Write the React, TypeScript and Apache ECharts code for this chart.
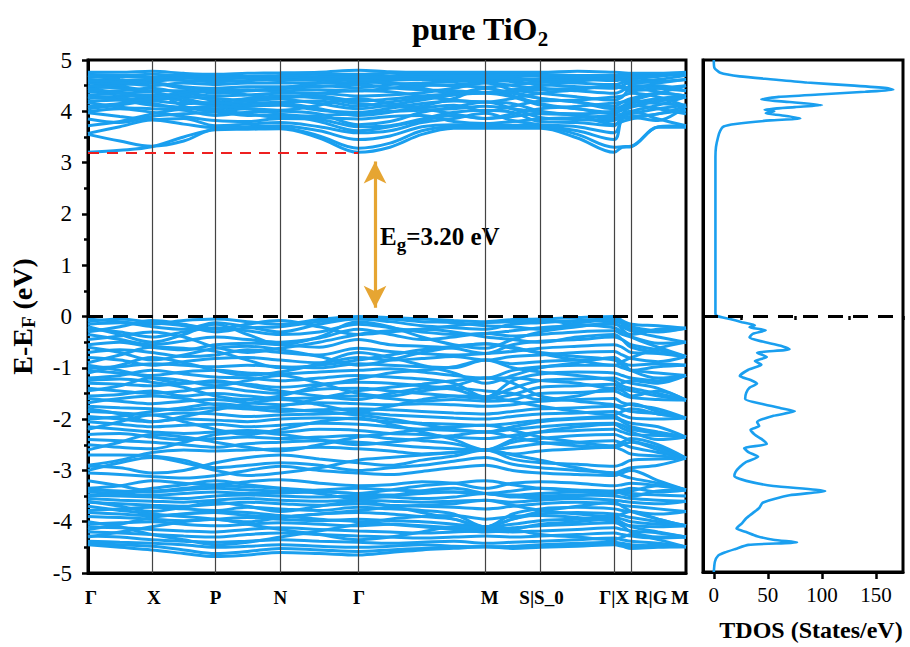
import React, { useEffect, useRef } from 'react';
import * as echarts from 'echarts';

const kPoints = [0, 32, 64, 96, 128, 160, 193, 232, 271, 303, 335, 367, 399, 426, 454, 491, 528, 536, 545, 572, 600];
const symPoints = [64, 128, 193, 271, 399, 454, 528, 545];
const kLabels = ['Γ', 'X', 'P', 'N', 'Γ', 'M', 'S|S_0', 'Γ|X', 'R|G', 'M'];
const kLabelPos = [3, 66, 128, 193, 272, 403, 455, 528, 565, 594];

const conductionBands = [
  [3.20, 3.24, 3.31, 3.50, 3.64, 3.65, 3.66, 3.48, 3.20, 3.30, 3.55, 3.67, 3.67, 3.67, 3.67, 3.48, 3.20, 3.30, 3.31, 3.69, 3.69],
  [3.55, 3.42, 3.32, 3.42, 3.66, 3.68, 3.68, 3.52, 3.28, 3.38, 3.62, 3.70, 3.70, 3.70, 3.70, 3.55, 3.30, 3.31, 3.32, 3.70, 3.72],
  [3.57, 3.70, 3.83, 3.75, 3.68, 3.70, 3.72, 3.62, 3.45, 3.52, 3.70, 3.74, 3.74, 3.73, 3.72, 3.62, 3.45, 3.85, 3.88, 3.82, 4.10],
  [3.97, 3.90, 3.84, 3.86, 3.72, 3.75, 3.78, 3.70, 3.58, 3.62, 3.78, 3.86, 3.96, 3.82, 3.74, 3.70, 3.58, 3.86, 3.90, 3.95, 4.10],
  [3.99, 4.05, 3.98, 3.90, 3.82, 3.80, 3.86, 3.84, 3.70, 3.72, 3.85, 3.98, 4.02, 3.98, 3.80, 3.78, 3.72, 3.90, 3.95, 4.05, 4.12],
  [4.17, 4.08, 4.05, 4.02, 3.92, 3.98, 4.00, 3.95, 3.74, 3.80, 3.98, 4.08, 4.18, 4.05, 3.88, 3.84, 3.82, 3.92, 4.00, 4.12, 4.28],
  [4.19, 4.22, 4.15, 4.06, 4.05, 4.10, 4.12, 4.02, 3.98, 4.06, 4.15, 4.20, 4.18, 4.15, 4.00, 3.92, 3.86, 3.95, 4.10, 4.20, 4.28],
  [4.25, 4.30, 4.32, 4.20, 4.12, 4.15, 4.18, 4.20, 4.10, 4.18, 4.26, 4.32, 4.35, 4.28, 4.12, 4.05, 3.95, 4.05, 4.15, 4.25, 4.30],
  [4.30, 4.26, 4.22, 4.28, 4.25, 4.22, 4.26, 4.30, 4.20, 4.24, 4.30, 4.34, 4.37, 4.36, 4.25, 4.18, 4.10, 4.18, 4.25, 4.35, 4.30],
  [4.38, 4.40, 4.45, 4.35, 4.30, 4.32, 4.35, 4.35, 4.30, 4.32, 4.36, 4.45, 4.55, 4.42, 4.35, 4.28, 4.22, 4.28, 4.45, 4.38, 4.30],
  [4.45, 4.48, 4.40, 4.40, 4.38, 4.42, 4.40, 4.42, 4.40, 4.45, 4.50, 4.52, 4.56, 4.50, 4.45, 4.40, 4.35, 4.40, 4.50, 4.50, 4.40],
  [4.50, 4.52, 4.55, 4.48, 4.45, 4.48, 4.48, 4.50, 4.46, 4.52, 4.55, 4.58, 4.60, 4.58, 4.52, 4.48, 4.45, 4.50, 4.58, 4.62, 4.70],
  [4.56, 4.55, 4.50, 4.55, 4.52, 4.55, 4.55, 4.56, 4.55, 4.60, 4.62, 4.62, 4.62, 4.62, 4.58, 4.55, 4.52, 4.56, 4.62, 4.68, 4.72],
  [4.62, 4.60, 4.62, 4.60, 4.58, 4.60, 4.62, 4.62, 4.62, 4.64, 4.64, 4.66, 4.66, 4.65, 4.62, 4.62, 4.60, 4.62, 4.66, 4.70, 4.74],
  [4.66, 4.68, 4.66, 4.66, 4.64, 4.65, 4.66, 4.68, 4.68, 4.68, 4.70, 4.70, 4.70, 4.70, 4.68, 4.66, 4.65, 4.66, 4.70, 4.72, 4.74],
  [4.72, 4.70, 4.72, 4.70, 4.70, 4.68, 4.70, 4.72, 4.72, 4.74, 4.72, 4.74, 4.74, 4.73, 4.72, 4.70, 4.70, 4.70, 4.72, 4.73, 4.75],
  [4.76, 4.76, 4.78, 4.74, 4.72, 4.74, 4.75, 4.76, 4.80, 4.77, 4.76, 4.76, 4.76, 4.76, 4.76, 4.78, 4.76, 4.75, 4.74, 4.74, 4.76],
  [4.32, 4.35, 4.38, 4.10, 4.00, 4.05, 4.02, 4.12, 4.25, 4.15, 4.08, 4.12, 4.00, 4.10, 4.20, 4.22, 4.28, 4.30, 4.35, 4.28, 4.10],
  [4.05, 4.12, 4.20, 4.15, 4.18, 4.25, 4.30, 4.26, 4.15, 4.10, 4.05, 3.95, 3.86, 3.95, 4.05, 4.10, 4.16, 4.18, 4.20, 4.15, 4.12],
  [4.40, 4.36, 4.30, 4.36, 4.45, 4.40, 4.44, 4.48, 4.52, 4.46, 4.42, 4.40, 4.36, 4.40, 4.42, 4.45, 4.48, 4.45, 4.40, 4.45, 4.50],
  [4.60, 4.58, 4.58, 4.65, 4.62, 4.66, 4.60, 4.64, 4.58, 4.55, 4.52, 4.50, 4.47, 4.52, 4.56, 4.60, 4.64, 4.62, 4.56, 4.58, 4.62],
  [3.85, 3.78, 3.90, 3.95, 3.98, 3.92, 3.94, 3.88, 3.85, 3.90, 3.92, 3.80, 3.76, 3.80, 3.85, 3.88, 3.92, 3.95, 4.00, 3.85, 3.72],
  [4.45, 4.35, 4.25, 4.30, 4.20, 4.10, 4.15, 4.05, 3.92, 3.98, 4.10, 4.25, 4.45, 4.30, 4.15, 4.05, 3.98, 4.02, 4.08, 4.20, 4.28],
  [4.70, 4.62, 4.55, 4.45, 4.35, 4.40, 4.45, 4.55, 4.62, 4.55, 4.45, 4.35, 4.36, 4.42, 4.50, 4.58, 4.66, 4.60, 4.52, 4.45, 4.40],
  [4.10, 4.15, 4.25, 4.32, 4.40, 4.32, 4.25, 4.15, 4.05, 4.12, 4.22, 4.32, 4.45, 4.35, 4.25, 4.18, 4.05, 4.10, 4.20, 4.35, 4.50],
  [4.50, 4.45, 4.38, 4.25, 4.15, 4.20, 4.25, 4.35, 4.40, 4.38, 4.30, 4.22, 4.18, 4.25, 4.35, 4.42, 4.50, 4.48, 4.45, 4.55, 4.62],
  [3.72, 3.80, 3.95, 4.05, 4.10, 4.05, 3.95, 3.80, 3.62, 3.70, 3.82, 3.92, 3.86, 3.90, 3.95, 3.92, 3.75, 3.80, 3.85, 3.95, 4.02],
  [4.28, 4.22, 4.12, 4.08, 4.02, 3.95, 3.88, 3.92, 3.95, 4.00, 4.02, 4.05, 4.10, 4.05, 3.98, 3.95, 4.00, 4.05, 4.12, 4.05, 3.95],
];

const valenceBands = [
  [-0.05, -0.10, -0.15, -0.08, -0.05, -0.10, -0.15, -0.06, 0.00, -0.02, -0.05, -0.08, -0.10, -0.06, -0.05, -0.02, 0.00, -0.08, -0.15, -0.18, -0.23],
  [-0.15, -0.12, -0.20, -0.25, -0.12, -0.20, -0.30, -0.15, -0.05, -0.10, -0.18, -0.22, -0.25, -0.15, -0.12, -0.08, -0.05, -0.12, -0.20, -0.28, -0.23],
  [-0.25, -0.30, -0.40, -0.30, -0.22, -0.28, -0.35, -0.30, -0.15, -0.22, -0.30, -0.35, -0.33, -0.28, -0.22, -0.18, -0.15, -0.20, -0.28, -0.40, -0.50],
  [-0.35, -0.45, -0.55, -0.48, -0.40, -0.45, -0.50, -0.42, -0.25, -0.35, -0.45, -0.40, -0.33, -0.38, -0.35, -0.30, -0.28, -0.35, -0.40, -0.52, -0.50],
  [-0.55, -0.50, -0.60, -0.65, -0.55, -0.52, -0.55, -0.60, -0.45, -0.55, -0.58, -0.62, -0.72, -0.55, -0.48, -0.45, -0.40, -0.45, -0.55, -0.65, -0.78],
  [-0.70, -0.65, -0.70, -0.78, -0.75, -0.65, -0.70, -0.75, -0.62, -0.68, -0.72, -0.75, -0.72, -0.68, -0.62, -0.58, -0.55, -0.60, -0.70, -0.72, -0.78],
  [-0.80, -0.85, -0.95, -0.88, -0.82, -0.80, -0.85, -0.90, -0.80, -0.85, -0.82, -0.78, -0.85, -0.78, -0.75, -0.70, -0.68, -0.75, -0.82, -0.88, -0.78],
  [-1.00, -0.98, -0.92, -0.95, -0.98, -0.95, -0.98, -1.00, -0.92, -0.95, -0.98, -1.00, -0.85, -0.92, -0.88, -0.85, -0.82, -0.90, -0.95, -0.92, -0.95],
  [-1.05, -1.10, -1.15, -1.08, -1.05, -1.10, -1.12, -1.08, -1.05, -1.02, -1.08, -1.15, -1.20, -1.05, -0.98, -0.95, -0.95, -1.00, -1.05, -1.10, -1.15],
  [-1.20, -1.15, -1.05, -1.12, -1.18, -1.20, -1.25, -1.20, -1.15, -1.18, -1.22, -1.30, -1.57, -1.25, -1.12, -1.08, -1.10, -1.15, -1.20, -1.25, -1.15],
  [-1.30, -1.32, -1.35, -1.30, -1.28, -1.32, -1.38, -1.32, -1.28, -1.30, -1.35, -1.42, -1.57, -1.40, -1.25, -1.22, -1.20, -1.25, -1.30, -1.40, -1.63],
  [-1.40, -1.45, -1.50, -1.45, -1.38, -1.45, -1.50, -1.42, -1.40, -1.45, -1.50, -1.55, -1.60, -1.52, -1.38, -1.35, -1.32, -1.40, -1.45, -1.55, -1.63],
  [-1.55, -1.52, -1.45, -1.55, -1.50, -1.55, -1.60, -1.58, -1.55, -1.60, -1.65, -1.62, -1.65, -1.62, -1.50, -1.48, -1.45, -1.52, -1.58, -1.62, -1.63],
  [-1.60, -1.65, -1.70, -1.65, -1.62, -1.68, -1.72, -1.68, -1.70, -1.72, -1.70, -1.72, -1.75, -1.72, -1.65, -1.62, -1.60, -1.68, -1.72, -1.80, -1.98],
  [-1.75, -1.78, -1.80, -1.82, -1.78, -1.80, -1.85, -1.82, -1.80, -1.82, -1.85, -1.88, -1.90, -1.85, -1.80, -1.78, -1.75, -1.80, -1.85, -1.90, -1.98],
  [-1.85, -1.88, -1.92, -1.88, -1.90, -1.95, -1.92, -1.90, -1.88, -1.92, -1.95, -1.98, -2.00, -1.95, -1.90, -1.88, -1.85, -1.92, -1.98, -2.00, -1.98],
  [-1.95, -2.00, -2.05, -2.00, -2.02, -2.05, -2.00, -1.98, -2.00, -2.05, -2.08, -2.10, -2.12, -2.08, -2.02, -1.98, -1.95, -2.02, -2.08, -2.15, -2.35],
  [-2.05, -2.10, -2.15, -2.12, -2.10, -2.15, -2.12, -2.08, -2.10, -2.15, -2.20, -2.22, -2.25, -2.20, -2.15, -2.10, -2.08, -2.12, -2.20, -2.28, -2.35],
  [-2.15, -2.20, -2.25, -2.28, -2.25, -2.22, -2.25, -2.20, -2.22, -2.28, -2.30, -2.35, -2.38, -2.32, -2.25, -2.22, -2.20, -2.25, -2.30, -2.32, -2.35],
  [-2.30, -2.28, -2.35, -2.40, -2.38, -2.35, -2.38, -2.35, -2.32, -2.38, -2.42, -2.48, -2.60, -2.45, -2.38, -2.32, -2.30, -2.35, -2.42, -2.55, -2.76],
  [-2.40, -2.42, -2.45, -2.50, -2.55, -2.48, -2.45, -2.42, -2.45, -2.50, -2.55, -2.58, -2.60, -2.55, -2.48, -2.45, -2.42, -2.48, -2.55, -2.65, -2.76],
  [-2.90, -2.80, -2.65, -2.60, -2.62, -2.60, -2.58, -2.55, -2.58, -2.62, -2.68, -2.65, -2.60, -2.68, -2.62, -2.58, -2.55, -2.60, -2.68, -2.72, -2.76],
  [-2.92, -2.95, -3.05, -3.00, -2.85, -2.75, -2.70, -2.78, -2.85, -2.90, -2.80, -2.72, -2.60, -2.78, -2.85, -2.88, -2.92, -2.88, -2.80, -2.78, -2.76],
  [-3.05, -3.08, -3.12, -3.15, -3.10, -3.00, -2.92, -3.00, -3.05, -3.08, -3.02, -2.95, -2.90, -3.00, -3.05, -3.08, -3.10, -3.05, -3.00, -3.20, -3.38],
  [-3.35, -3.30, -3.20, -3.25, -3.28, -3.22, -3.18, -3.25, -3.30, -3.28, -3.22, -3.25, -3.35, -3.25, -3.22, -3.25, -3.30, -3.28, -3.25, -3.30, -3.38],
  [-3.38, -3.40, -3.42, -3.38, -3.35, -3.38, -3.40, -3.38, -3.35, -3.38, -3.40, -3.42, -3.45, -3.40, -3.35, -3.38, -3.40, -3.38, -3.35, -3.42, -3.38],
  [-3.42, -3.45, -3.48, -3.45, -3.42, -3.45, -3.44, -3.42, -3.45, -3.48, -3.45, -3.42, -3.45, -3.48, -3.45, -3.42, -3.44, -3.42, -3.45, -3.48, -3.50],
  [-3.48, -3.50, -3.52, -3.55, -3.50, -3.48, -3.50, -3.52, -3.50, -3.52, -3.55, -3.52, -3.45, -3.52, -3.50, -3.48, -3.50, -3.52, -3.55, -3.58, -3.60],
  [-3.55, -3.58, -3.60, -3.62, -3.58, -3.55, -3.58, -3.60, -3.58, -3.60, -3.62, -3.60, -3.58, -3.62, -3.58, -3.55, -3.58, -3.60, -3.62, -3.65, -3.60],
  [-3.62, -3.65, -3.68, -3.70, -3.66, -3.62, -3.65, -3.68, -3.65, -3.68, -3.70, -3.72, -3.75, -3.70, -3.65, -3.62, -3.65, -3.68, -3.70, -3.75, -3.80],
  [-3.78, -3.75, -3.72, -3.75, -3.78, -3.72, -3.75, -3.78, -3.72, -3.75, -3.78, -3.85, -4.10, -3.85, -3.75, -3.72, -3.75, -3.78, -3.80, -3.85, -3.80],
  [-3.82, -3.85, -3.88, -3.85, -3.82, -3.88, -3.90, -3.85, -3.82, -3.85, -3.90, -3.95, -4.10, -3.95, -3.85, -3.82, -3.85, -3.88, -3.92, -4.00, -4.08],
  [-3.90, -3.92, -3.95, -3.98, -3.95, -3.92, -3.95, -3.98, -3.95, -3.98, -4.00, -4.05, -4.10, -4.05, -3.98, -3.95, -3.92, -3.95, -4.00, -4.05, -4.08],
  [-4.05, -4.02, -4.00, -4.05, -4.08, -4.05, -4.02, -4.05, -4.08, -4.05, -4.08, -4.12, -4.15, -4.12, -4.08, -4.05, -4.02, -4.05, -4.08, -4.10, -4.08],
  [-4.10, -4.12, -4.15, -4.18, -4.20, -4.15, -4.12, -4.15, -4.18, -4.20, -4.22, -4.20, -4.18, -4.20, -4.18, -4.15, -4.12, -4.15, -4.18, -4.22, -4.30],
  [-4.20, -4.22, -4.25, -4.28, -4.30, -4.25, -4.22, -4.25, -4.28, -4.30, -4.32, -4.30, -4.28, -4.30, -4.28, -4.25, -4.22, -4.25, -4.28, -4.32, -4.30],
  [-4.28, -4.30, -4.35, -4.38, -4.40, -4.38, -4.35, -4.38, -4.40, -4.42, -4.40, -4.38, -4.42, -4.40, -4.38, -4.35, -4.32, -4.35, -4.38, -4.42, -4.49],
  [-4.38, -4.40, -4.42, -4.45, -4.50, -4.48, -4.45, -4.48, -4.50, -4.48, -4.45, -4.48, -4.49, -4.48, -4.45, -4.42, -4.40, -4.42, -4.45, -4.48, -4.49],
  [-4.42, -4.45, -4.48, -4.55, -4.62, -4.58, -4.52, -4.55, -4.58, -4.55, -4.52, -4.50, -4.49, -4.50, -4.48, -4.45, -4.42, -4.45, -4.50, -4.45, -4.49],
  [-4.45, -4.50, -4.55, -4.62, -4.68, -4.65, -4.60, -4.62, -4.65, -4.60, -4.55, -4.52, -4.49, -4.52, -4.50, -4.48, -4.45, -4.48, -4.52, -4.50, -4.49],
  [-0.10, -0.05, -0.12, -0.18, -0.30, -0.22, -0.20, -0.10, -0.02, -0.05, -0.10, -0.12, -0.18, -0.20, -0.25, -0.12, -0.08, -0.15, -0.25, -0.30, -0.23],
  [-0.45, -0.38, -0.30, -0.40, -0.60, -0.70, -0.62, -0.50, -0.35, -0.28, -0.25, -0.30, -0.40, -0.45, -0.50, -0.40, -0.35, -0.45, -0.60, -0.70, -0.78],
  [-0.90, -0.75, -0.60, -0.62, -0.68, -0.85, -1.00, -0.95, -0.85, -0.75, -0.65, -0.58, -0.53, -0.62, -0.70, -0.78, -0.85, -0.95, -1.05, -0.98, -0.95],
  [-1.25, -1.22, -1.28, -1.38, -1.55, -1.62, -1.55, -1.35, -1.22, -1.10, -1.05, -0.98, -0.85, -1.00, -1.08, -1.15, -1.25, -1.35, -1.40, -1.50, -1.63],
  [-1.68, -1.60, -1.55, -1.60, -1.72, -1.80, -1.75, -1.60, -1.45, -1.38, -1.32, -1.25, -1.20, -1.30, -1.55, -1.65, -1.72, -1.75, -1.70, -1.85, -1.98],
  [-2.00, -1.95, -1.85, -1.78, -1.70, -1.75, -1.80, -1.85, -1.92, -2.00, -2.10, -2.20, -2.25, -2.15, -2.05, -2.00, -1.98, -2.05, -2.15, -2.25, -2.35],
  [-2.50, -2.55, -2.58, -2.45, -2.30, -2.25, -2.30, -2.40, -2.50, -2.45, -2.38, -2.32, -2.25, -2.35, -2.45, -2.52, -2.55, -2.50, -2.45, -2.60, -2.76],
  [-3.20, -3.30, -3.40, -3.35, -3.30, -3.32, -3.35, -3.40, -3.45, -3.38, -3.30, -3.25, -3.20, -3.28, -3.35, -3.40, -3.45, -3.42, -3.40, -3.30, -3.38],
  [-3.70, -3.78, -3.85, -3.90, -3.95, -4.00, -3.92, -3.85, -3.78, -3.72, -3.68, -3.65, -3.58, -3.68, -3.78, -3.85, -3.90, -3.85, -3.80, -3.95, -4.08],
  [-4.15, -4.05, -3.92, -3.85, -3.80, -3.82, -3.88, -3.95, -4.00, -4.05, -4.10, -4.15, -4.20, -4.15, -4.05, -4.00, -3.95, -4.02, -4.10, -4.20, -4.30],
  [-0.20, -0.35, -0.50, -0.35, -0.15, -0.35, -0.55, -0.40, -0.10, -0.20, -0.40, -0.55, -0.62, -0.45, -0.30, -0.20, -0.12, -0.25, -0.40, -0.60, -0.78],
  [-0.60, -0.70, -0.85, -0.75, -0.62, -0.58, -0.65, -0.78, -0.95, -0.85, -0.70, -0.60, -0.53, -0.60, -0.72, -0.85, -0.95, -0.88, -0.80, -0.62, -0.50],
  [-1.10, -0.95, -0.80, -0.90, -1.05, -1.15, -1.08, -0.92, -0.70, -0.80, -0.95, -1.10, -1.30, -1.15, -1.00, -0.90, -0.80, -0.90, -1.05, -1.20, -1.15],
  [-1.45, -1.35, -1.20, -1.25, -1.35, -1.25, -1.15, -1.30, -1.50, -1.55, -1.45, -1.40, -1.45, -1.50, -1.62, -1.55, -1.40, -1.45, -1.55, -1.45, -1.63],
  [-1.80, -1.90, -2.05, -1.95, -1.82, -1.70, -1.62, -1.72, -1.85, -1.75, -1.62, -1.55, -1.57, -1.65, -1.75, -1.85, -1.92, -1.85, -1.80, -1.90, -1.98],
  [-2.20, -2.05, -1.92, -2.05, -2.20, -2.30, -2.20, -2.05, -1.98, -2.10, -2.25, -2.40, -2.60, -2.40, -2.25, -2.15, -2.10, -2.18, -2.25, -2.40, -2.35],
  [-2.60, -2.45, -2.30, -2.35, -2.45, -2.55, -2.62, -2.50, -2.35, -2.28, -2.20, -2.15, -2.12, -2.22, -2.35, -2.45, -2.52, -2.45, -2.38, -2.50, -2.76],
  [-3.00, -2.85, -2.75, -2.85, -3.00, -3.10, -3.05, -2.95, -2.80, -2.75, -2.70, -2.65, -2.60, -2.70, -2.80, -2.95, -3.05, -3.00, -2.95, -2.90, -2.76],
  [-3.50, -3.45, -3.35, -3.28, -3.20, -3.28, -3.35, -3.45, -3.55, -3.50, -3.40, -3.35, -3.45, -3.50, -3.55, -3.50, -3.42, -3.45, -3.50, -3.40, -3.38],
  [-3.60, -3.70, -3.80, -3.72, -3.62, -3.70, -3.80, -3.70, -3.60, -3.70, -3.82, -3.95, -4.10, -3.95, -3.80, -3.70, -3.62, -3.70, -3.80, -3.95, -4.08],
  [-4.30, -4.20, -4.10, -4.00, -3.95, -4.05, -4.15, -4.25, -4.35, -4.30, -4.20, -4.10, -4.10, -4.15, -4.25, -4.30, -4.35, -4.30, -4.25, -4.35, -4.49],
  [-4.00, -4.10, -4.25, -4.35, -4.45, -4.40, -4.30, -4.18, -4.05, -3.95, -3.90, -3.88, -3.95, -3.90, -3.88, -3.92, -4.00, -4.08, -4.20, -4.30, -4.30],
  [-0.30, -0.20, -0.08, -0.15, -0.25, -0.15, -0.08, -0.20, -0.35, -0.30, -0.25, -0.18, -0.12, -0.10, -0.08, -0.15, -0.22, -0.30, -0.35, -0.25, -0.23],
  [-0.95, -1.05, -1.20, -1.30, -1.25, -1.35, -1.45, -1.55, -1.62, -1.50, -1.40, -1.35, -1.20, -1.20, -1.25, -1.30, -1.40, -1.30, -1.25, -1.30, -1.15],
  [-2.70, -2.70, -2.72, -2.80, -2.95, -2.90, -2.85, -2.90, -3.00, -2.95, -2.90, -2.82, -2.75, -2.88, -2.95, -3.00, -3.05, -3.10, -3.15, -3.25, -3.38],
];

const dosEnergy = [
  5.0, 4.85, 4.75, 4.68, 4.62, 4.56, 4.5, 4.45, 4.42, 4.38, 4.33, 4.28, 4.23, 4.18, 4.12, 4.08, 4.03, 4.0, 3.96, 3.92,
  3.86, 3.82, 3.75, 3.7, 3.62, 3.5, 3.3, 3.1, 2.5, 1.5, 0.5, 0.05, 0.0, -0.06, -0.12, -0.18, -0.22, -0.28, -0.35, -0.42,
  -0.5, -0.58, -0.65, -0.72, -0.8, -0.88, -0.95, -1.05, -1.17, -1.25, -1.32, -1.4, -1.5, -1.62, -1.72, -1.8, -1.86, -1.95, -2.07, -2.15,
  -2.22, -2.32, -2.4, -2.5, -2.58, -2.66, -2.75, -2.85, -2.95, -3.05, -3.13, -3.22, -3.32, -3.42, -3.5, -3.58, -3.65, -3.75, -3.85, -3.95,
  -4.05, -4.15, -4.22, -4.3, -4.37, -4.42, -4.47, -4.55, -4.62, -4.68, -4.8, -5.0,
];
const dosValue = [
  0, 0.5, 6, 24, 55, 86, 130, 160, 166, 140, 101, 60, 44, 70, 100, 75, 47, 56, 48, 62,
  80, 52, 20, 9, 6, 4, 2, 1.5, 1.5, 1.5, 1.5, 1.5, 3, 15, 26, 38, 33, 48, 36, 33,
  45, 62, 70, 40, 49, 38, 44, 32, 24, 34, 40, 33, 30, 29, 45, 62, 75, 55, 40, 42,
  34, 38, 44, 49, 28, 32, 41, 30, 24, 20, 19, 30, 55, 103, 70, 55, 45, 42, 36, 30,
  26, 21, 30, 40, 55, 77, 32, 20, 10, 4, 1, 0,
];
const dosTicks = [0, 50, 100, 150];
const dosMinorTicks = [25, 75, 125, 175];
const gapEnergy = 3.2;
const gapArrowK = 288;
const gapArrowEnds = [0.17, 3.02];

const BLUE = '#1A9FEF';
const FONT = '"Liberation Serif", "Times New Roman", serif';

export default function App() {
  const ref = useRef<HTMLDivElement>(null);

  useEffect(() => {
    if (!ref.current) return;
    const chart = echarts.init(ref.current, null, { renderer: 'svg' });

    const bandSeries = conductionBands.concat(valenceBands).map((band) => ({
      type: 'line',
      xAxisIndex: 0,
      yAxisIndex: 0,
      data: kPoints.map((k, i) => [k, band[i]]),
      smooth: 0.35,
      symbol: 'none',
      silent: true,
      lineStyle: { color: BLUE, width: 3 },
      z: 2,
    }));

    const option: any = {
      animation: false,
      backgroundColor: '#ffffff',
      grid: [
        { left: 85, top: 60, width: 601, height: 513, show: true, borderColor: '#000', borderWidth: 3, backgroundColor: 'transparent' },
        { left: 703, top: 60, width: 200, height: 513, show: true, borderColor: '#000', borderWidth: 3, backgroundColor: 'transparent' },
      ],
      xAxis: [
        {
          gridIndex: 0, type: 'value', min: 0, max: 600,
          axisLine: { show: true, onZero: false, lineStyle: { color: '#000', width: 3 } },
          axisTick: { show: false },
          splitLine: { show: false },
          axisLabel: {
            customValues: kLabelPos,
            formatter: (v: number) => { const i = kLabelPos.indexOf(v); return i >= 0 ? kLabels[i] : ''; },
            fontFamily: FONT, fontWeight: 'bold', fontSize: 19, color: '#000', margin: 15,
          },
        },
        {
          gridIndex: 1, type: 'value', min: -10, max: 175,
          axisLine: { show: true, onZero: false, lineStyle: { color: '#000', width: 3 } },
          axisTick: { show: true, customValues: dosTicks, length: 7, lineStyle: { color: '#000', width: 2.5 } },
          axisLabel: { customValues: dosTicks, fontFamily: FONT, fontSize: 21, color: '#000', margin: 12 },
          splitLine: { show: false },
          name: 'TDOS (States/eV)', nameLocation: 'middle', nameGap: 46,
          nameTextStyle: { fontFamily: FONT, fontWeight: 'bold', fontSize: 24, color: '#000', padding: [0, 0, 0, 16] },
        },
        {
          gridIndex: 1, type: 'value', min: -10, max: 175, position: 'bottom',
          axisLine: { show: false },
          axisTick: { show: true, customValues: dosMinorTicks, length: 4, lineStyle: { color: '#000', width: 2.5 } },
          axisLabel: { show: false },
          splitLine: { show: false },
        },
      ],
      yAxis: [
        {
          gridIndex: 0, type: 'value', min: -5, max: 5, interval: 1,
          axisLine: { show: true, onZero: false, lineStyle: { color: '#000', width: 3 } },
          axisTick: { show: true, length: 6, lineStyle: { color: '#000', width: 2.5 } },
          minorTick: { show: true, splitNumber: 2, length: 4, lineStyle: { color: '#000', width: 2.5 } },
          axisLabel: { fontFamily: FONT, fontSize: 23, color: '#000', margin: 16 },
          splitLine: { show: false },
          name: '{a|E-E}{s|F}{a| (eV)}',
          nameLocation: 'middle', nameGap: 50, nameRotate: 90,
          nameTextStyle: {
            rich: {
              a: { fontFamily: FONT, fontWeight: 'bold', fontSize: 28, color: '#000', lineHeight: 30, verticalAlign: 'top' },
              s: { fontFamily: FONT, fontWeight: 'bold', fontSize: 19, color: '#000', lineHeight: 30, verticalAlign: 'bottom' },
            },
          },
        },
        {
          gridIndex: 1, type: 'value', min: -5, max: 5,
          axisLine: { show: true, onZero: false, lineStyle: { color: '#000', width: 3 } },
          axisTick: { show: false },
          axisLabel: { show: false },
          splitLine: { show: false },
        },
      ],
      series: [
        ...bandSeries,
        {
          type: 'line', xAxisIndex: 0, yAxisIndex: 0, data: [], silent: true, z: 5,
          markLine: {
            silent: true, symbol: ['none', 'none'], label: { show: false },
            lineStyle: { color: '#444', width: 1.2, type: 'solid' },
            data: symPoints.map((k) => ({ xAxis: k })),
          },
        },
        {
          type: 'line', xAxisIndex: 0, yAxisIndex: 0, data: [], silent: true, z: 6,
          markLine: {
            silent: true, symbol: ['none', 'none'], label: { show: false },
            lineStyle: { color: '#EE2020', width: 2, type: [11, 8] },
            data: [[{ coord: [0, gapEnergy] }, { coord: [kPoints[8], gapEnergy] }]],
          },
        },
        {
          type: 'line', xAxisIndex: 0, yAxisIndex: 0, data: [], silent: true, z: 7,
          markLine: {
            silent: true, symbol: ['none', 'none'], label: { show: false },
            lineStyle: { color: '#000', width: 3, type: [15, 10] },
            data: [{ yAxis: 0 }],
          },
        },
        {
          type: 'line', xAxisIndex: 0, yAxisIndex: 0, data: [], silent: true, z: 7,
          markLine: {
            silent: true, symbol: ['arrow', 'arrow'], symbolSize: [17, 22], label: { show: false },
            lineStyle: { color: '#E6A532', width: 3.2, type: 'solid' },
            data: [[{ coord: [gapArrowK, gapArrowEnds[0]] }, { coord: [gapArrowK, gapArrowEnds[1]] }]],
          },
        },
        {
          type: 'line', xAxisIndex: 1, yAxisIndex: 1,
          data: dosEnergy.map((e, i) => [dosValue[i], e]),
          smooth: 0.2, symbol: 'none', silent: true,
          lineStyle: { color: BLUE, width: 2.6 },
          markLine: {
            silent: true, symbol: ['none', 'none'], label: { show: false },
            lineStyle: { color: '#000', width: 3, type: [15, 10] },
            data: [{ yAxis: 0 }],
          },
        },
      ],
      graphic: [
        {
          type: 'text', x: 480, y: 13,
          style: {
            text: '{a|pure TiO}{s|2}',
            textAlign: 'center',
            textVerticalAlign: 'top',
            rich: {
              a: { fontFamily: FONT, fontWeight: 'bold', fontSize: 32, fill: '#000', lineHeight: 36, verticalAlign: 'top' },
              s: { fontFamily: FONT, fontWeight: 'bold', fontSize: 21, fill: '#000', lineHeight: 36, verticalAlign: 'bottom' },
            },
          },
        },
        {
          type: 'text', x: 380, y: 224,
          style: {
            text: '{a|E}{s|g}{a|=3.20 eV}',
            textVerticalAlign: 'top',
            rich: {
              a: { fontFamily: FONT, fontWeight: 'bold', fontSize: 25, fill: '#000', lineHeight: 30, verticalAlign: 'top' },
              s: { fontFamily: FONT, fontWeight: 'bold', fontSize: 19, fill: '#000', lineHeight: 30, verticalAlign: 'bottom' },
            },
          },
        },
      ],
    };

    chart.setOption(option);
    return () => chart.dispose();
  }, []);

  return (
    <div
      ref={ref}
      style={{ position: 'fixed', left: 0, top: 0, width: 910, height: 647, background: '#fff' }}
    />
  );
}
